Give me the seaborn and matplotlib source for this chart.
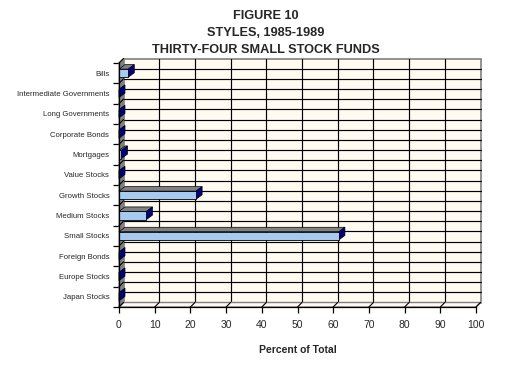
import matplotlib
matplotlib.use("Agg")
import matplotlib.pyplot as plt
from matplotlib.patches import Polygon, Rectangle
import seaborn as sns
import pandas as pd

categories = ["Bills", "Intermediate Governments", "Long Governments", "Corporate Bonds",
              "Mortgages", "Value Stocks", "Growth Stocks", "Medium Stocks",
              "Small Stocks", "Foreign Bonds", "Europe Stocks", "Japan Stocks"]
values = [2.6, 0, 0, 0, 0.7, 0, 21.6, 7.7, 61.6, 0, 0, 0]
xticks = [0, 10, 20, 30, 40, 50, 60, 70, 80, 90, 100]
title_lines = ["FIGURE 10", "STYLES, 1985-1989", "THIRTY-FOUR SMALL STOCK FUNDS"]
xlabel = "Percent of Total"

sns.set_style("white")
plt.rcParams['font.family'] = ['Liberation Sans', 'DejaVu Sans']

W, H = 505, 383
fig = plt.figure(figsize=(W / 100, H / 100), dpi=100)
L, R, T, B = 119, 476, 63, 307
ax = fig.add_axes([L / W, (H - B) / H, (R - L) / W, (B - T) / H])

df = pd.DataFrame({"cat": categories, "val": values})
sns.barplot(data=df, x="val", y="cat", orient="h", color="#A6CAF0", width=0.4,
            edgecolor="black", linewidth=0.6, saturation=1, ax=ax)

n = len(categories)
ax.set_xlim(0, 100)
ax.set_ylim(n - 0.5, -0.5)

# depth offsets (pixels -> data)
px_x = (R - L) / 100.0
px_y = (B - T) / n
dx = 4.5 / px_x
dy = 4.5 / px_y
bdx = 6.0 / px_x
bdy = 4.5 / px_y

cream = "#FFFBF0"
gray = "#808080"
navy = "#000080"

# back wall
ax.add_patch(Rectangle((dx, -0.5 - dy), 100, n, facecolor=cream, edgecolor=gray,
                       linewidth=1.2, zorder=0, clip_on=False))
for k in range(1, 2 * n):
    yy = -0.5 + k * 0.5 - dy
    ax.plot([dx, 100 + dx], [yy, yy], color="black", lw=0.85, zorder=1, clip_on=False)
for xv in xticks[1:-1]:
    ax.plot([xv + dx, xv + dx], [-0.5 - dy, n - 0.5 - dy], color="black", lw=0.85,
            zorder=1, clip_on=False)

# floor
ax.add_patch(Polygon([(0, n - 0.5), (100, n - 0.5), (100 + dx, n - 0.5 - dy), (dx, n - 0.5 - dy)],
                     closed=True, facecolor=cream, edgecolor=gray, linewidth=1.0,
                     zorder=2, clip_on=False))
for xv in xticks[1:]:
    ax.plot([xv, xv + dx], [n - 0.5, n - 0.5 - dy], color="black", lw=0.8, zorder=2,
            clip_on=False)

# left wall
ax.add_patch(Polygon([(0, -0.5), (0, n - 0.5), (dx, n - 0.5 - dy), (dx, -0.5 - dy)],
                     closed=True, facecolor=gray, edgecolor=gray, linewidth=0.8,
                     zorder=2, clip_on=False))
for k in range(n + 1):
    yb = -0.5 + k
    ax.plot([0, dx], [yb, yb - dy], color="black", lw=0.8, zorder=2, clip_on=False)

# 3D faces of bars
for p in list(ax.patches):
    if not isinstance(p, Rectangle) or p.get_facecolor()[2] < 0.8 or p.get_zorder() < 1:
        continue
    x0, y0 = p.get_x(), p.get_y()
    w, h = p.get_width(), p.get_height()
    if h <= 0 or h > 1:
        continue
    x1, y1 = x0 + w, y0 + h
    top = Polygon([(x0, y0), (x1, y0), (x1 + bdx, y0 - bdy), (x0 + bdx, y0 - bdy)],
                  closed=True, facecolor=gray, edgecolor="black", linewidth=0.5,
                  zorder=4, clip_on=False)
    side = Polygon([(x1, y0), (x1, y1), (x1 + bdx, y1 - bdy), (x1 + bdx, y0 - bdy)],
                   closed=True, facecolor=navy, edgecolor="black", linewidth=0.5,
                   zorder=4, clip_on=False)
    ax.add_patch(top)
    ax.add_patch(side)
    p.set_zorder(5)

# axes styling
for s in ["top", "right"]:
    ax.spines[s].set_visible(False)
ax.spines["left"].set_color("black")
ax.spines["bottom"].set_color("black")
ax.spines["left"].set_linewidth(0.9)
ax.spines["bottom"].set_linewidth(0.9)
ax.spines["left"].set_zorder(6)
ax.spines["bottom"].set_zorder(6)
ax.set_facecolor("none")
ax.patch.set_visible(False)

ax.set_xticks(xticks)
ax.set_xticklabels([str(v) for v in xticks], fontsize=7.5)
ax.set_yticks(range(n))
ax.set_yticklabels(categories, fontsize=5.6)
ax.set_yticks([k - 0.5 for k in range(n + 1)], minor=True)
ax.tick_params(axis="y", which="major", length=0, pad=7)
ax.tick_params(axis="y", which="minor", length=4, width=0.9, color="black", left=True)
ax.tick_params(axis="x", which="major", length=4, width=0.9, color="black", bottom=True, pad=5)
ax.set_ylabel("")
ax.set_xlabel(xlabel, fontsize=7.5, fontweight="bold", labelpad=11)
ax.grid(False)

for i, line in enumerate(title_lines):
    fig.text(266 / W, 1 - (16 + 17 * i) / H, line, ha="center", va="center",
             fontsize=9.2, fontweight="bold")

fig.savefig("out.png", dpi=100, facecolor="white")
